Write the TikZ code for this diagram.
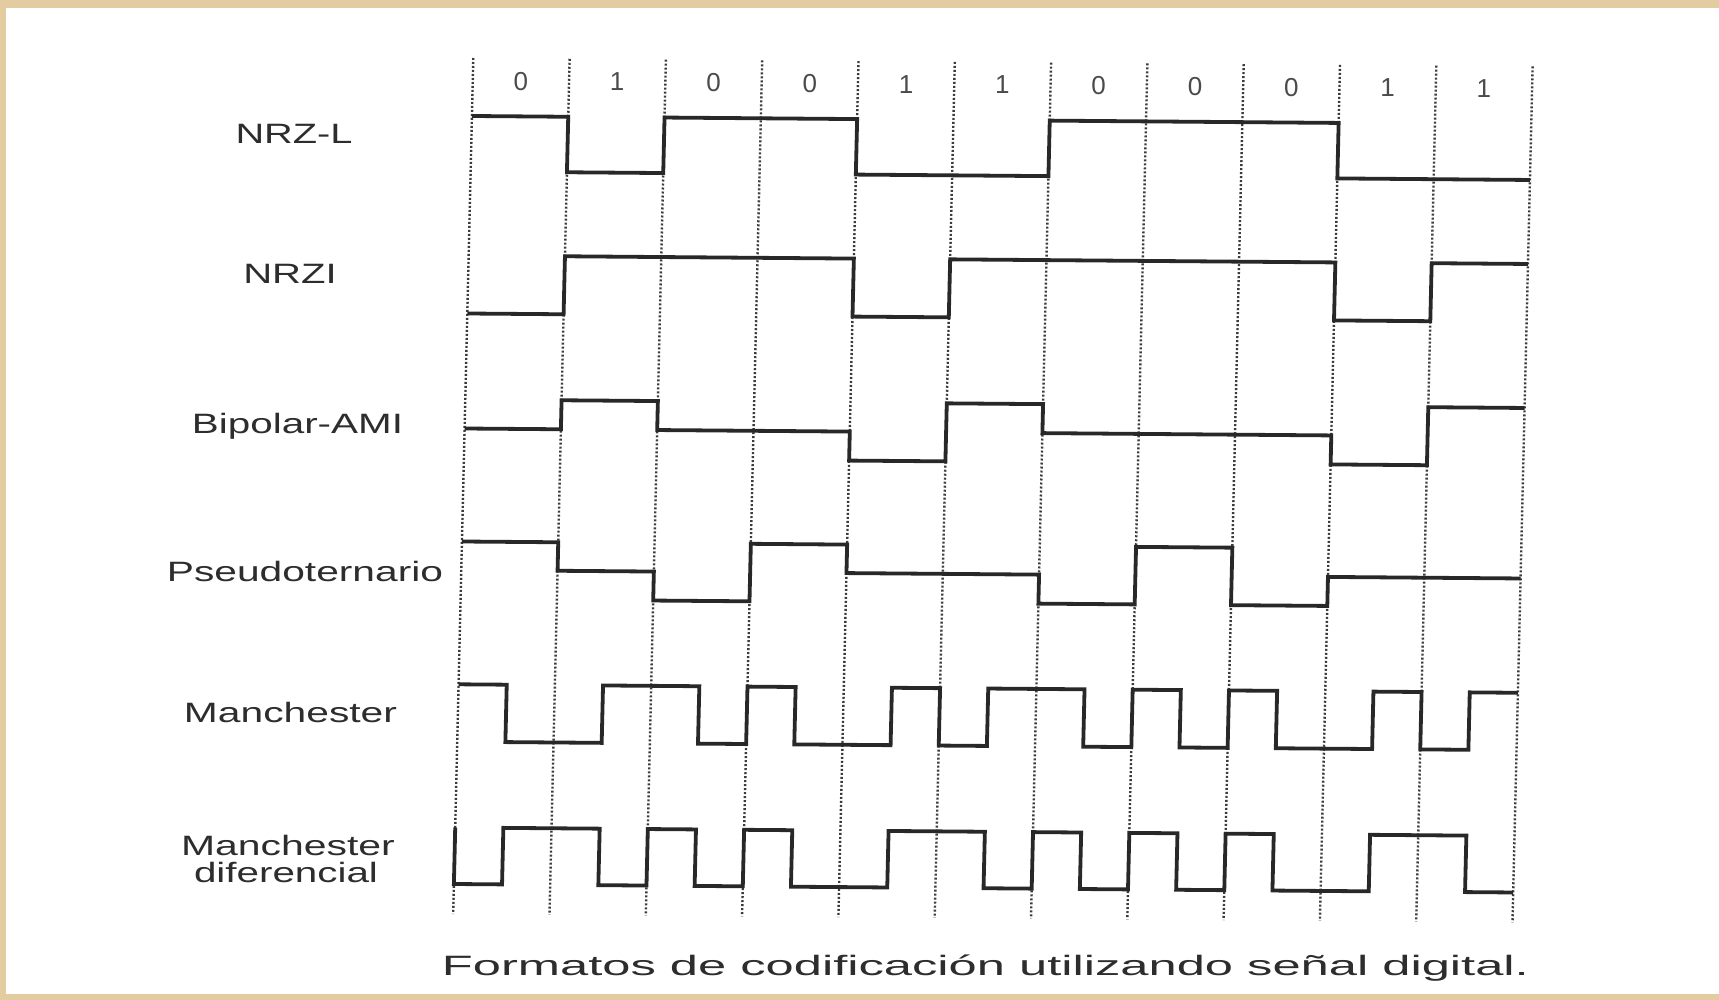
\documentclass[tikz,border=0pt]{standalone}
\usepackage{fontspec}
\setmainfont{Liberation Sans}
\usepackage{graphicx}
\definecolor{beige}{RGB}{226,204,160}
\definecolor{ink}{RGB}{40,40,40}
\definecolor{dotc}{RGB}{60,60,60}
\definecolor{txt}{RGB}{45,45,45}
\definecolor{bitc}{RGB}{75,75,75}
\newcommand{\wlabel}[2]{\resizebox{#1}{\height}{#2}}
\tikzset{
  gridline/.style={draw=dotc, line width=2.4pt, dash pattern=on 2pt off 2pt},
  wave/.style={draw=ink, line width=3.8pt, line join=miter, line cap=butt},
  bit/.style={text=bitc, font=\fontsize{26}{28}\selectfont, inner sep=0pt},
  lbl/.style={text=txt, font=\fontsize{28}{30}\selectfont, inner sep=0pt, anchor=base},
}
\begin{document}
\begin{tikzpicture}
\useasboundingbox (0pt,0pt) rectangle (1719pt,-1000pt);
\fill[white] (0pt,0pt) rectangle (1719pt,-1000pt);
\fill[beige] (0pt,0pt) rectangle (1719pt,-8pt);
\fill[beige] (0pt,0pt) rectangle (6pt,-1000pt);
\fill[beige] (0pt,-994pt) rectangle (1719pt,-1000pt);

\begin{scope}[shift={(473.3pt,-58pt)}, x={(96.3pt,-0.77pt)}, y={(-0.0235pt,-1pt)}]
  \foreach \i in {0,...,11} \draw[gridline] (\i,0) -- (\i,856);
  \foreach \b [count=\k from 0] in {0,1,0,0,1,1,0,0,0,1,1}
    \node[bit] (bit\k) at (\k+0.5,22.7) {\b};
  % NRZ-L
  \draw[wave] (0,58) -- (1,58) -- (1,113.5) -- (2,113.5) -- (2,58) -- (4,58) -- (4,113.5) -- (6,113.5) -- (6,58) -- (9,58) -- (9,113.5) -- (11,113.5);
  % NRZI
  \draw[wave] (0,255.5) -- (1,255.5) -- (1,197.5) -- (4,197.5) -- (4,255.5) -- (5,255.5) -- (5,197.5) -- (9,197.5) -- (9,255.5) -- (10,255.5) -- (10,197.5) -- (11,197.5);
  % Bipolar-AMI
  \draw[wave] (0,370.5) -- (1,370.5) -- (1,341.5) -- (2,341.5) -- (2,370.5) -- (4,370.5) -- (4,399.5) -- (5,399.5) -- (5,341.5) -- (6,341.5) -- (6,370.5) -- (9,370.5) -- (9,399.5) -- (10,399.5) -- (10,341.5) -- (11,341.5);
  % Pseudoternario
  \draw[wave] (0,483.5) -- (1,483.5) -- (1,512) -- (2,512) -- (2,541) -- (3,541) -- (3,483.5) -- (4,483.5) -- (4,512) -- (6,512) -- (6,541) -- (7,541) -- (7,483.5) -- (8,483.5) -- (8,541) -- (9,541) -- (9,512) -- (11,512);
  % Manchester
  \draw[wave] (0,626.3) -- (0.5,626.3) -- (0.5,683.7) -- (1.5,683.7) -- (1.5,626.3) -- (2.5,626.3) -- (2.5,683.7) -- (3,683.7) -- (3,626.3) -- (3.5,626.3) -- (3.5,683.7) -- (4.5,683.7) -- (4.5,626.3) -- (5,626.3) -- (5,683.7) -- (5.5,683.7) -- (5.5,626.3) -- (6.5,626.3) -- (6.5,683.7) -- (7,683.7) -- (7,626.3) -- (7.5,626.3) -- (7.5,683.7) -- (8,683.7) -- (8,626.3) -- (8.5,626.3) -- (8.5,683.7) -- (9.5,683.7) -- (9.5,626.3) -- (10,626.3) -- (10,683.7) -- (10.5,683.7) -- (10.5,626.3) -- (11,626.3);
  % Manchester diferencial
  \draw[wave] (0,769.5) -- (0,826) -- (0.5,826) -- (0.5,769.5) -- (1.5,769.5) -- (1.5,826) -- (2,826) -- (2,769.5) -- (2.5,769.5) -- (2.5,826) -- (3,826) -- (3,769.5) -- (3.5,769.5) -- (3.5,826) -- (4.5,826) -- (4.5,769.5) -- (5.5,769.5) -- (5.5,826) -- (6,826) -- (6,769.5) -- (6.5,769.5) -- (6.5,826) -- (7,826) -- (7,769.5) -- (7.5,769.5) -- (7.5,826) -- (8,826) -- (8,769.5) -- (8.5,769.5) -- (8.5,826) -- (9.5,826) -- (9.5,769.5) -- (10.5,769.5) -- (10.5,826) -- (11,826);
\end{scope}

\node[lbl] (nrzl) at (294pt,-143.7pt) {\wlabel{117pt}{NRZ-L}};
\node[lbl] (nrzi) at (290pt,-284pt) {\wlabel{93.5pt}{NRZI}};
\node[lbl] (ami) at (297.5pt,-433pt) {\wlabel{211pt}{Bipolar-AMI}};
\node[lbl] (pseudo) at (305pt,-581pt) {\wlabel{276pt}{Pseudoternario}};
\node[lbl] (manch) at (290.5pt,-722.6pt) {\wlabel{213pt}{Manchester}};
\node[lbl] (diff1) at (288pt,-855.3pt) {\wlabel{213.7pt}{Manchester}};
\node[lbl] (diff2) at (286pt,-882.7pt) {\wlabel{184pt}{diferencial}};
\node[lbl] (caption) at (985.5pt,-975pt) {\wlabel{1087pt}{Formatos de codificación utilizando señal digital.}};
\end{tikzpicture}
\end{document}
